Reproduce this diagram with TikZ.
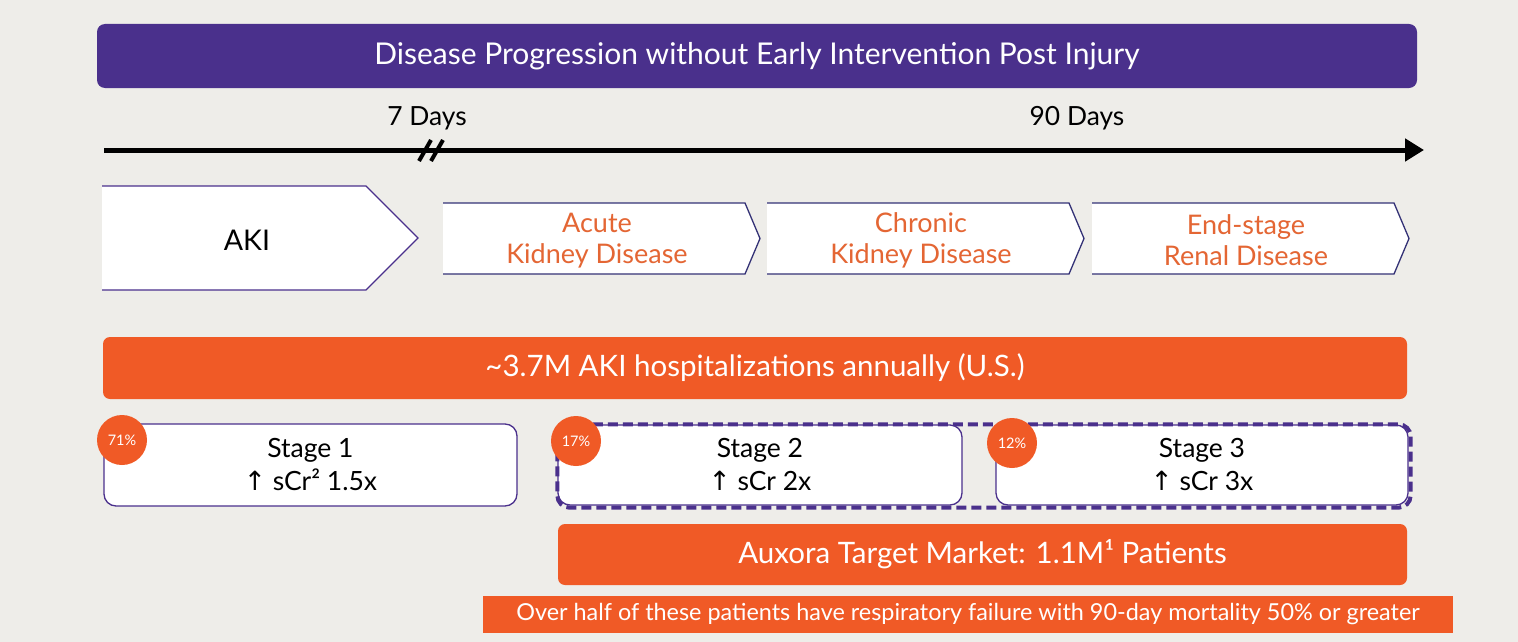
\documentclass[tikz,border=0pt]{standalone}
\usepackage{fontspec}
\setmainfont{Lato}
\newfontfamily\arrowfont{DejaVu Sans}
\usetikzlibrary{positioning,arrows.meta}
\definecolor{axpurple}{RGB}{74,48,140}
\definecolor{axorange}{RGB}{240,90,38}
\definecolor{axtext}{RGB}{228,102,52}
\definecolor{axnavy}{RGB}{52,50,118}
\definecolor{axbg}{RGB}{238,237,233}
\newcommand{\fsz}[2]{\fontsize{#1}{#2}\selectfont}
\newcommand{\up}{{\arrowfont\char"2191}}
\tikzset{
  titlebar/.style={fill=axpurple,rounded corners=8pt,text=white,minimum width=1320pt,minimum height=64pt,font=\fsz{30}{34}},
  bar/.style={fill=axorange,rounded corners=7pt,text=white,font=\fsz{29.5}{34}},
  note/.style={fill=axorange,text=white,minimum width=970pt,minimum height=37pt,font=\fsz{23.4}{27}},
  timeline/.style={line width=5pt,-{Triangle[length=19pt,width=22pt]}},
  brk/.style={line width=4pt},
  daylab/.style={font=\fsz{26.4}{30}},
  chevfill/.style={fill=white},
  chevline/.style={draw=axnavy,line width=1.3pt,line join=miter},
  chevtext/.style={text=axtext,align=center,font=\fsz{27}{31}},
  stagebox/.style={draw=axpurple,fill=white,line width=1.3pt,rounded corners=12pt,minimum height=80pt,align=center,font=\fsz{26.5}{33}},
  pct/.style={circle,fill=axorange,text=white,minimum size=50pt,inner sep=0pt,font=\fsz{14.5}{16}},
  frame/.style={draw=axpurple,line width=4pt,dash pattern=on 10pt off 5pt,rounded corners=12pt}
}
\begin{document}
\begin{tikzpicture}[x=1pt,y=-1pt]
  \useasboundingbox (0,0) rectangle (1518,642);
  \fill[axbg] (0,0) rectangle (1518,642);
  % header
  \node[titlebar] (title) at (757,56) {Disease Progression without Early Intervention Post Injury};
  % time axis
  \coordinate (t0) at (104,150); \coordinate (t1) at (1424,150);
  \draw[timeline] (t0) -- (t1);
  \draw[brk] (419,161) -- (431,140); \draw[brk] (431,161) -- (443,140);
  \node[daylab] (d7) at (427,118) {7 Days};
  \node[daylab] (d90) at (1077,118) {90 Days};
  % stages of disease
  \path[chevfill] (102,186) -- (366,186) -- (418,238) -- (366,290) -- (102,290) -- cycle;
  \draw[chevline,draw=axpurple] (102,186) -- (366,186) -- (418,238) -- (366,290) -- (102,290);
  \node[font=\fsz{28.5}{32}] (aki) at (247,240) {AKI};
  \foreach \nm/\xl/\txt in {akd/443/{Acute\\Kidney Disease},ckd/767/{Chronic\\Kidney Disease},esrd/1092/{End-stage\\Renal Disease}}{
    \path[chevfill] (\xl,203) -- ++(302,0) -- ++(15,35.5) -- ++(-15,35.5) -- ++(-302,0) -- cycle;
    \draw[chevline] (\xl,203) -- ++(302,0) -- ++(15,35.5) -- ++(-15,35.5) -- ++(-302,0);
    \node[chevtext] (\nm) at (\xl+154,240.5) {\txt};
  }
  % numbers
  \node[bar,minimum width=1304pt,minimum height=62pt] (hosp) at (755,368) {\textasciitilde3.7M AKI hospitalizations annually (U.S.)};
  \node[stagebox,minimum width=413pt,minimum height=82pt] (s1) at (310.5,465) {Stage 1\\\up\ sCr² 1.5x};
  \node[stagebox,minimum width=404pt] (s2) at (760,465) {Stage 2\\\up\ sCr 2x};
  \node[stagebox,minimum width=412pt] (s3) at (1202,465) {Stage 3\\\up\ sCr 3x};
  \draw[frame] (s2.north west) rectangle ([xshift=2pt,yshift=-2pt]s3.south east);
  \node[pct] (p1) at (122,440) {71\%};
  \node[pct] (p2) at (576,441) {17\%};
  \node[pct] (p3) at (1012,443) {12\%};
  \node[bar,minimum width=849pt,minimum height=61pt] (market) at (982.5,554.5) {Auxora Target Market: 1.1M¹ Patients};
  \node[note] (resp) at (968,614.5) {Over half of these patients have respiratory failure with 90-day mortality 50\% or greater};
\end{tikzpicture}
\end{document}
